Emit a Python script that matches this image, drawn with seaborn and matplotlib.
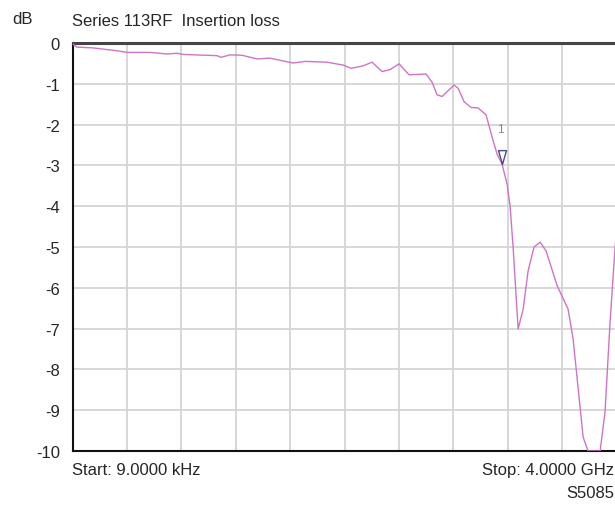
import numpy as np
import pandas as pd
import matplotlib
matplotlib.use("Agg")
import matplotlib.pyplot as plt
import seaborn as sns

# Insertion loss trace (frequency in GHz, loss in dB)
freq_ghz = [0.000009, 0.031, 0.151, 0.327, 0.40, 0.57, 0.695, 0.768, 0.813,
            1.062, 1.092, 1.158, 1.246, 1.357, 1.452, 1.621, 1.710, 1.871,
            1.989, 2.048, 2.136, 2.202, 2.276, 2.335, 2.401, 2.474, 2.599,
            2.643, 2.680, 2.717, 2.805, 2.835, 2.879, 2.930, 2.982, 3.040,
            3.085, 3.121, 3.158, 3.195, 3.217, 3.239, 3.276, 3.313, 3.349,
            3.393, 3.438, 3.482, 3.563, 3.643, 3.680, 3.754, 3.790, 3.879,
            3.915, 3.952, 3.989, 4.0]
loss_db = [-0.02, -0.10, -0.12, -0.19, -0.23, -0.23, -0.27, -0.25, -0.28,
           -0.31, -0.35, -0.29, -0.30, -0.39, -0.37, -0.49, -0.45, -0.47,
           -0.54, -0.62, -0.56, -0.47, -0.70, -0.65, -0.51, -0.78, -0.76,
           -0.96, -1.27, -1.31, -1.03, -1.11, -1.44, -1.58, -1.59, -1.76,
           -2.31, -2.72, -2.97, -3.46, -4.0, -5.0, -7.01, -6.52, -5.59,
           -5.0, -4.88, -5.1, -5.95, -6.52, -7.25, -9.66, -10.0, -10.0,
           -9.04, -6.84, -5.0, -4.6]

marker_freq = [3.158]
marker_db = [-2.97]
marker_labels = ["1"]

y_ticks = list(range(0, -11, -1))
x_grid = [0.0, 0.4, 0.8, 1.2, 1.6, 2.0, 2.4, 2.8, 3.2, 3.6, 4.0]

df = pd.DataFrame({"freq": freq_ghz, "loss": loss_db})

sns.set_style("white")
plt.rcParams["font.family"] = ["Liberation Sans", "DejaVu Sans"]

fig = plt.figure(figsize=(6.15, 5.06), dpi=100)
ax = fig.add_axes([0.118, 0.1067, 0.8846, 0.8063])

sns.lineplot(data=df, x="freq", y="loss", ax=ax, color="#cf74c4",
             linewidth=1.0, sort=False, zorder=3)

# marker triangle with its tip on the trace
tri = [(-0.29, 1.0), (0.29, 1.0), (0.0, 0.0), (-0.29, 1.0)]
ax.plot(marker_freq, marker_db, linestyle="none", marker=tri, markersize=20,
        markerfacecolor="none", markeredgecolor="#4a4a8a",
        markeredgewidth=1.0, zorder=4)
for fx, fy, lab in zip(marker_freq, marker_db, marker_labels):
    ax.annotate(lab, (fx, fy), xytext=(-1, 21), textcoords="offset points",
                ha="center", va="bottom", fontsize=8.5, color="#7888a8")

ax.set_xlim(0, 4.0)
ax.set_ylim(-10, 0)
ax.set_yticks(y_ticks)
ax.set_yticklabels([str(v) for v in y_ticks], fontsize=12)
ax.set_xticks(x_grid)
ax.set_xticklabels([])
ax.tick_params(axis="both", length=0, pad=9)
ax.grid(True, color="#d4d4d4", linewidth=1.3)
ax.set_xlabel("")
ax.set_ylabel("")

for side in ["left", "bottom"]:
    ax.spines[side].set_color("#111111")
    ax.spines[side].set_linewidth(1.5)
ax.spines["top"].set_color("#444444")
ax.spines["top"].set_linewidth(2.2)
ax.spines["right"].set_visible(False)

fig.text(12 / 615, 1 - 19 / 506, "dB", fontsize=12, va="center", ha="left")
fig.text(72 / 615, 1 - 22 / 506, "Series 113RF  Insertion loss", fontsize=12,
         va="center", ha="left")
fig.text(72 / 615, 1 - 471 / 506, "Start: 9.0000 kHz", fontsize=12,
         va="center", ha="left")
fig.text(614 / 615, 1 - 471 / 506, "Stop: 4.0000 GHz", fontsize=12,
         va="center", ha="right")
fig.text(614 / 615, 1 - 494 / 506, "S5085", fontsize=12,
         va="center", ha="right")

fig.savefig("out.png", dpi=100)
plt.close(fig)
